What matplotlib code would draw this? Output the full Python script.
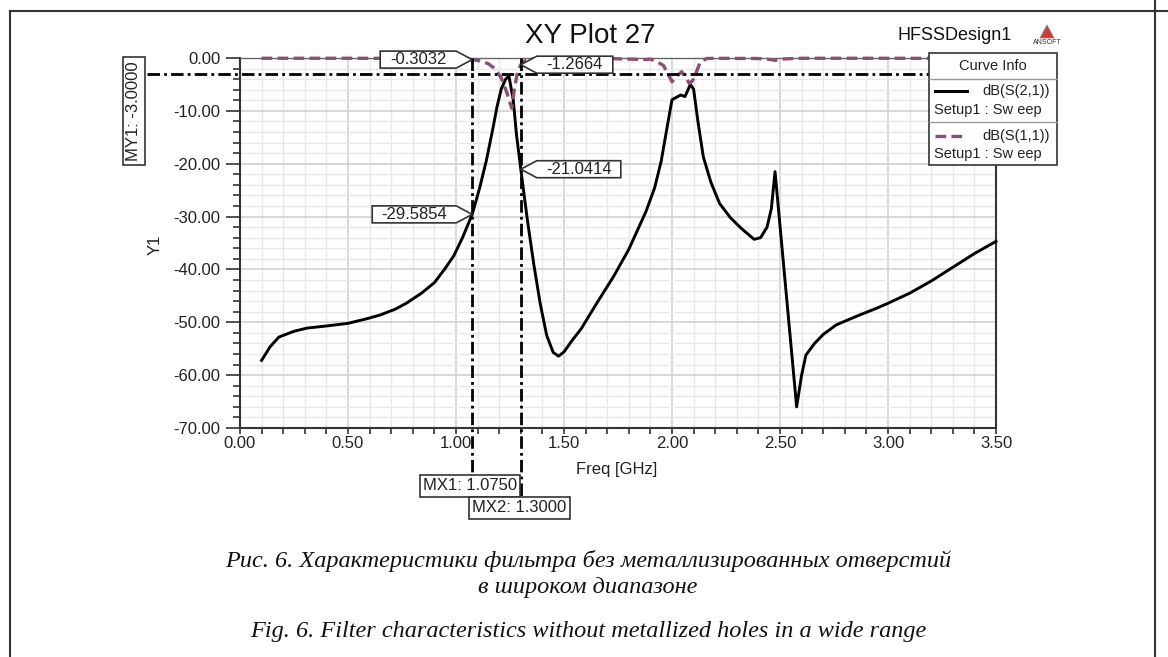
import numpy as np
import matplotlib.pyplot as plt
import matplotlib.transforms as mtransforms
from matplotlib.lines import Line2D
from matplotlib.patches import Rectangle, Polygon
from matplotlib.ticker import MultipleLocator, FormatStrFormatter

plt.rcParams['font.family'] = ['Liberation Sans', 'DejaVu Sans']

# dB(S(2,1))
f21 = [0.10, 0.14, 0.18, 0.25, 0.31, 0.40, 0.50, 0.59, 0.65, 0.72, 0.77, 0.84,
       0.90, 0.95, 0.99, 1.03, 1.075, 1.11, 1.14, 1.17, 1.19, 1.21, 1.23, 1.245,
       1.265, 1.28, 1.30, 1.33, 1.36, 1.39, 1.42, 1.45, 1.475, 1.50, 1.54, 1.58,
       1.65, 1.73, 1.80, 1.88, 1.92, 1.95, 1.98, 2.00, 2.04, 2.06, 2.085, 2.10,
       2.12, 2.145, 2.18, 2.22, 2.27, 2.32, 2.38, 2.41, 2.44, 2.46, 2.477, 2.577,
       2.60, 2.62, 2.66, 2.70, 2.76, 2.80, 2.87, 2.95, 3.00, 3.10, 3.20, 3.30,
       3.40, 3.50]
s21 = [-57.2, -54.6, -52.8, -51.7, -51.1, -50.7, -50.2, -49.3, -48.6, -47.5, -46.4, -44.5,
       -42.5, -39.8, -37.4, -34.0, -29.59, -24.5, -19.5, -13.5, -9.2, -5.8, -4.0, -3.4,
       -7.9, -14.5, -21.04, -30.5, -39.0, -46.5, -52.5, -55.7, -56.4, -55.6, -53.3, -51.2,
       -46.5, -41.3, -36.2, -29.0, -24.5, -19.5, -12.5, -7.9, -7.0, -7.3, -5.0, -5.9,
       -12.0, -18.7, -23.5, -27.5, -30.2, -32.2, -34.3, -34.0, -32.0, -28.5, -21.5, -66.0,
       -60.0, -56.2, -54.0, -52.3, -50.5, -49.8, -48.6, -47.3, -46.4, -44.5, -42.2, -39.6,
       -37.0, -34.7]

# dB(S(1,1))
f11 = [0.10, 0.50, 1.00, 1.075, 1.12, 1.15, 1.18, 1.21, 1.235, 1.258, 1.27, 1.285,
       1.30, 1.32, 1.35, 1.50, 1.70, 1.80, 1.88, 1.90, 1.93, 1.96, 1.985, 2.00,
       2.02, 2.045, 2.065, 2.08, 2.095, 2.11, 2.13, 2.16, 2.20, 2.40, 2.46, 2.477,
       2.50, 2.60, 3.00, 3.50]
s11 = [-0.05, -0.05, -0.1, -0.30, -0.6, -1.1, -2.0, -3.8, -6.5, -9.5, -6.0, -2.5,
       -1.27, -0.5, -0.2, -0.1, -0.1, -0.2, -0.3, -0.2, -0.7, -1.4, -3.3, -4.5,
       -3.5, -2.6, -3.8, -4.8, -4.3, -3.0, -0.8, -0.1, -0.05, -0.1, -0.3, -0.45,
       -0.2, -0.05, -0.05, -0.1]

mx = [1.075, 1.300]
my = -3.0
mk_vals = [(1.075, -0.3032, 'left'), (1.075, -29.5854, 'left'),
           (1.300, -1.2664, 'right'), (1.300, -21.0414, 'right')]

W, H = 1168, 657
def fx(x): return x / W
def fy(y): return 1 - y / H

fig = plt.figure(figsize=(W / 100, H / 100), dpi=100)
ax = fig.add_axes([fx(240), fy(428), 756 / W, 370 / H])

ax.set_xlim(0, 3.5)
ax.set_ylim(-70, 0)
ax.xaxis.set_major_locator(MultipleLocator(0.5))
ax.xaxis.set_minor_locator(MultipleLocator(0.1))
ax.yaxis.set_major_locator(MultipleLocator(10))
ax.yaxis.set_minor_locator(MultipleLocator(2))
ax.xaxis.set_major_formatter(FormatStrFormatter('%.2f'))
ax.yaxis.set_major_formatter(FormatStrFormatter('%.2f'))
ax.grid(which='major', color='#d2d2d2', lw=1.2)
ax.grid(which='minor', color='#e8e8e8', lw=1.0)
ax.set_axisbelow(True)
ax.tick_params(axis='y', which='major', length=10, width=1.2, color='#333',
               labelsize=12, labelcolor='#222', pad=4)
ax.tick_params(axis='y', which='minor', length=5, width=1.2, color='#333')
ax.tick_params(axis='x', which='both', length=4, width=1.2, color='#333',
               labelsize=12, labelcolor='#222', pad=2)
for s in ['left', 'bottom', 'right']:
    ax.spines[s].set_color('#333')
    ax.spines[s].set_linewidth(1.5)
ax.spines['top'].set_color('#666')
ax.spines['top'].set_linewidth(1.0)

ax.set_xlabel('Freq [GHz]', fontsize=12, color='#222')
ax.set_ylabel('Y1', fontsize=12, color='#222')
ax.xaxis.set_label_coords((617 - 240) / 756, (428 - 462) / 370)
ax.yaxis.set_label_coords((163 - 240) / 756, (428 - 245) / 370)

ax.plot(f21, s21, color='black', lw=2.1, zorder=3, clip_on=False)
ax.plot(f11, s11, color='#8B4F74', lw=2.4, ls=(0, (3.2, 1.6)), zorder=3, clip_on=False)

# markers
dd = (0, (4.5, 1.5, 1.0, 1.5))
ax.plot([-0.123, 1.0], [my, my], transform=ax.get_yaxis_transform(),
        color='black', lw=2.0, ls=dd, clip_on=False, zorder=4)
ax.plot([mx[0], mx[0]], [1.0, -0.127], transform=ax.get_xaxis_transform(),
        color='black', lw=2.0, ls=dd, clip_on=False, zorder=4)
ax.plot([mx[1], mx[1]], [1.0, -0.186], transform=ax.get_xaxis_transform(),
        color='black', lw=2.0, ls=dd, clip_on=False, zorder=4)

def tag(x, y, txt, side, w=78, h=17, g=16):
    tr = fig.dpi_scale_trans + mtransforms.ScaledTranslation(x, y, ax.transData)
    s = -1 if side == 'left' else 1
    v = np.array([(0, 0), (s * g, h / 2), (s * (g + w), h / 2),
                  (s * (g + w), -h / 2), (s * g, -h / 2)]) / 100.0
    ax.add_patch(Polygon(v, closed=True, fc='white', ec='#333', lw=1.2,
                         transform=tr, clip_on=False, zorder=6))
    ax.text(s * (g + w / 2) / 100.0, 0, txt, transform=tr, ha='center', va='center',
            fontsize=12, color='#222', zorder=7, clip_on=False)

for x, y, side in mk_vals:
    tag(x, y, '%.4f' % y, side, w=(84 if abs(y) >= 10 else 76))

def fig_box(x0, y0, x1, y1, z=8):
    fig.add_artist(Rectangle((fx(x0), fy(y1)), (x1 - x0) / W, (y1 - y0) / H,
                             transform=fig.transFigure, fc='white', ec='#333',
                             lw=1.2, zorder=z))

fig_box(420, 475, 520, 497)
fig.text(fx(470), fy(486), 'MX1: %.4f' % mx[0], ha='center', va='center',
         fontsize=12, color='#222', zorder=9)
fig_box(469, 497, 570, 519)
fig.text(fx(519), fy(508), 'MX2: %.4f' % mx[1], ha='center', va='center',
         fontsize=12, color='#222', zorder=9)
fig_box(123, 57, 145, 165)
fig.text(fx(134), fy(111), 'MY1: %.4f' % my, ha='center', va='center', rotation=90,
         fontsize=12, color='#222', zorder=9)

# titles
fig.text(fx(590), fy(36), 'XY Plot 27', ha='center', va='center', fontsize=20, color='#111')
fig.text(fx(955), fy(36), 'HFSSDesign1', ha='center', va='center', fontsize=13, color='#111')
fig.add_artist(Polygon([(fx(1040), fy(38)), (fx(1047), fy(25)), (fx(1054), fy(38))],
                       closed=True, transform=fig.transFigure, fc='#d23a3a', ec='#888', lw=0.6))
fig.text(fx(1047), fy(43), 'ANSOFT', ha='center', va='center', fontsize=5, color='#333')

# curve info box
fig_box(929, 53, 1057, 165, z=10)
for yy in [79, 122]:
    fig.add_artist(Line2D([fx(929), fx(1057)], [fy(yy), fy(yy)], color='#999', lw=1.0, zorder=11))
fig.text(fx(993), fy(66), 'Curve Info', ha='center', va='center', fontsize=10.5, color='#222', zorder=11)
fig.add_artist(Line2D([fx(935), fx(967)], [fy(91), fy(91)], color='black', lw=2.2, zorder=11))
fig.add_artist(Line2D([fx(935), fx(967)], [fy(136), fy(136)], color='#8B4F74', lw=2.4,
                      ls=(0, (3.2, 1.6)), zorder=11))
fig.text(fx(1050), fy(91), 'dB(S(2,1))', ha='right', va='center', fontsize=10.5, color='#222', zorder=11)
fig.text(fx(1050), fy(136), 'dB(S(1,1))', ha='right', va='center', fontsize=10.5, color='#222', zorder=11)
fig.text(fx(934), fy(110), 'Setup1 : Sw eep', ha='left', va='center', fontsize=10.5, color='#222', zorder=11)
fig.text(fx(934), fy(154), 'Setup1 : Sw eep', ha='left', va='center', fontsize=10.5, color='#222', zorder=11)

# page frame
fr = dict(color='#333', lw=1.5)
fig.add_artist(Line2D([fx(10), fx(10)], [fy(11), 0], **fr))
fig.add_artist(Line2D([fx(10), 1], [fy(11), fy(11)], **fr))
fig.add_artist(Line2D([fx(1155), fx(1155)], [1, 0], **fr))

# caption
cap = dict(ha='center', va='center', fontsize=17.5, style='italic',
           family=['Liberation Serif', 'DejaVu Serif'], color='#111')
fig.text(fx(588), fy(561), 'Рис. 6. Характеристики фильтра без металлизированных отверстий', **cap)
fig.text(fx(588), fy(588), 'в широком диапазоне', **cap)
fig.text(fx(588), fy(632), 'Fig. 6. Filter characteristics without metallized holes in a wide range', **cap)

fig.savefig('out.png', dpi=100)
